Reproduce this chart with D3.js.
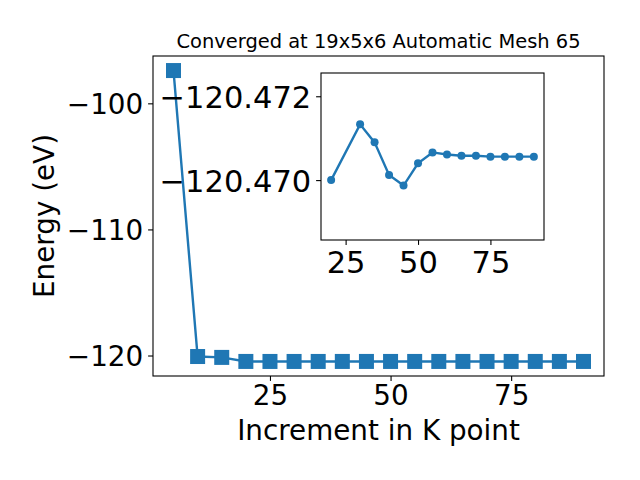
<!DOCTYPE html>
<html>
<head>
<meta charset="utf-8">
<script src="https://cdn.jsdelivr.net/npm/d3@7"></script>
<style>
  html, body { margin: 0; padding: 0; background: #fff; }
  svg { display: block; }
  text { font-family: "DejaVu Sans", sans-serif; fill: #000; }
</style>
</head>
<body>
<svg id="chart" width="640" height="480"></svg>
<script>
// ---------- data ----------
const titleText = "Converged at 19x5x6 Automatic Mesh 65";
const xLabel = "Increment in K point";
const yLabel = "Energy (eV)";

const kPoints = [5, 10, 15, 20, 25, 30, 35, 40, 45, 50, 55, 60, 65, 70, 75, 80, 85, 90];
const energies = [-97.40, -120.08, -120.15, -120.470, -120.471, -120.4713, -120.4709, -120.4701,
                  -120.4699, -120.4704, -120.4707, -120.4706, -120.4706, -120.4706, -120.4706,
                  -120.4706, -120.4706, -120.4706];

const insetK = [20, 30, 35, 40, 45, 50, 55, 60, 65, 70, 75, 80, 85, 90];
const insetEnergies = [-120.47000, -120.47133, -120.47090, -120.47012, -120.46987, -120.47040,
                       -120.47066, -120.47061, -120.47058, -120.47058, -120.47056, -120.47056,
                       -120.47056, -120.47056];

const mainXTicks = [25, 50, 75];
const mainYTicks = [-100, -110, -120];
const insetXTicks = [25, 50, 75];
const insetYTicks = [-120.472, -120.470];

// ---------- layout ----------
const blue = "#1f77b4";
const svg = d3.select("#chart");
const M = { left: 153, right: 604, top: 56, bottom: 376 };
const I = { left: 321, right: 544, top: 73, bottom: 240 };

const x = d3.scaleLinear().domain([0.75, 94.25]).range([M.left, M.right]);
const y = d3.scaleLinear().domain([-121.625, -96.246]).range([M.bottom, M.top]);

const xi = d3.scaleLinear().domain([16.5, 93.5]).range([I.left, I.right]);
// inset y-axis runs inverted (more negative at top)
const yi = d3.scaleLinear().domain([-120.472555, -120.468571]).range([I.top, I.bottom]);

const fmtInt = d3.format("d");
const fmt3 = d3.format(".3f");

// ---------- main axes ----------
const gMain = svg.append("g");
gMain.append("rect").attr("x", M.left).attr("y", M.top)
  .attr("width", M.right - M.left).attr("height", M.bottom - M.top)
  .attr("fill", "#fff");

const line = d3.line().x((d, i) => x(kPoints[i])).y(d => y(d));
gMain.append("path").datum(energies)
  .attr("d", line).attr("fill", "none").attr("stroke", blue).attr("stroke-width", 2.4);

const sq = 15;
gMain.selectAll("rect.m").data(energies).join("rect").attr("class", "m")
  .attr("x", (d, i) => x(kPoints[i]) - sq / 2)
  .attr("y", d => y(d) - sq / 2)
  .attr("width", sq).attr("height", sq)
  .attr("fill", blue);

const xAxis = d3.axisBottom(x).tickValues(mainXTicks).tickFormat(fmtInt).tickSize(4.9).tickPadding(4.9);
const yAxis = d3.axisLeft(y).tickValues(mainYTicks).tickFormat(fmtInt).tickSize(4.9).tickPadding(4.9);

const gx = gMain.append("g").attr("transform", `translate(0,${M.bottom})`).call(xAxis);
const gy = gMain.append("g").attr("transform", `translate(${M.left},0)`).call(yAxis);
[gx, gy].forEach(g => {
  g.select(".domain").remove();
  g.selectAll(".tick line").attr("stroke", "#000").attr("stroke-width", 1.1);
  g.selectAll(".tick text").style("font-size", "27.8px").attr("fill", "#000");
});
gx.selectAll(".tick text").attr("y", 404.5 - M.bottom).attr("dy", 0);
gy.selectAll(".tick text").attr("dy", "0.36em");

gMain.append("rect").attr("x", M.left).attr("y", M.top)
  .attr("width", M.right - M.left).attr("height", M.bottom - M.top)
  .attr("fill", "none").attr("stroke", "#000").attr("stroke-width", 1.1);

// labels
svg.append("text").attr("x", (M.left + M.right) / 2).attr("y", 48)
  .attr("text-anchor", "middle").style("font-size", "19.44px").text(titleText);
svg.append("text").attr("x", (M.left + M.right) / 2).attr("y", 440)
  .attr("text-anchor", "middle").style("font-size", "27.8px").text(xLabel);
svg.append("text").attr("transform", `translate(54,${(M.top + M.bottom) / 2}) rotate(-90)`)
  .attr("text-anchor", "middle").style("font-size", "27.8px").text(yLabel);

// ---------- inset axes ----------
const gIn = svg.append("g");
gIn.append("rect").attr("x", I.left).attr("y", I.top)
  .attr("width", I.right - I.left).attr("height", I.bottom - I.top)
  .attr("fill", "#fff");

const lineI = d3.line().x((d, i) => xi(insetK[i])).y(d => yi(d));
gIn.append("path").datum(insetEnergies)
  .attr("d", lineI).attr("fill", "none").attr("stroke", blue).attr("stroke-width", 2.4);
gIn.selectAll("circle").data(insetEnergies).join("circle")
  .attr("cx", (d, i) => xi(insetK[i])).attr("cy", d => yi(d))
  .attr("r", 4).attr("fill", blue);

const xiAxis = d3.axisBottom(xi).tickValues(insetXTicks).tickFormat(fmtInt).tickSize(4.9).tickPadding(4.9);
const yiAxis = d3.axisLeft(yi).tickValues(insetYTicks).tickFormat(fmt3).tickSize(4.9).tickPadding(4.9);
const gxi = gIn.append("g").attr("transform", `translate(0,${I.bottom})`).call(xiAxis);
const gyi = gIn.append("g").attr("transform", `translate(${I.left},0)`).call(yiAxis);
[gxi, gyi].forEach(g => {
  g.select(".domain").remove();
  g.selectAll(".tick line").attr("stroke", "#000").attr("stroke-width", 1.1);
  g.selectAll(".tick text").style("font-size", "30.5px").attr("fill", "#000");
});
gxi.selectAll(".tick text").attr("y", 273 - I.bottom).attr("dy", 0);
gyi.selectAll(".tick text").attr("dy", "0.36em");

gIn.append("rect").attr("x", I.left).attr("y", I.top)
  .attr("width", I.right - I.left).attr("height", I.bottom - I.top)
  .attr("fill", "none").attr("stroke", "#000").attr("stroke-width", 1.1);
</script>
</body>
</html>
